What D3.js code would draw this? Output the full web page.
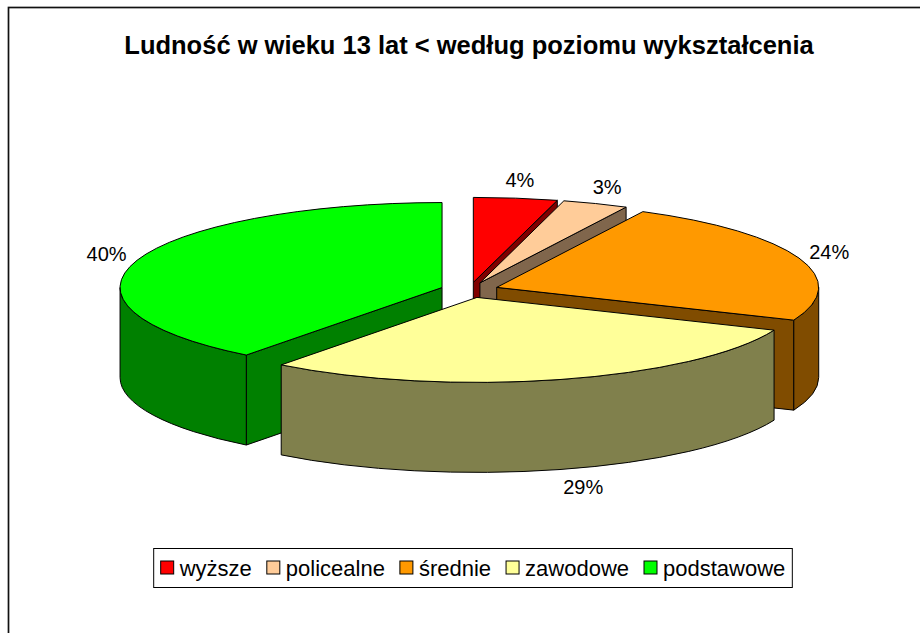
<!DOCTYPE html>
<html>
<head>
<meta charset="utf-8">
<script src="https://cdn.jsdelivr.net/npm/d3@7"></script>
<style>
  body { margin: 0; background: #fff; }
  text { font-family: "Liberation Sans", Arial, sans-serif; }
</style>
</head>
<body>
<div id="chart-area"></div>
<script>
// Data
var categories = ["wyższe", "policealne", "średnie", "zawodowe", "podstawowe"];
var values = [4.2, 3.3, 23.8, 29.1, 39.6];
var topColors = ["#FF0000", "#FFCC99", "#FF9900", "#FFFF99", "#00FF00"];
var sideColors = ["#800000", "#80664C", "#804C00", "#80804C", "#008000"];
var title = "Ludność w wieku 13 lat < według poziomu wykształcenia";

var width = 920, height = 633;

var svg = d3.select("#chart-area").append("svg")
    .attr("width", width)
    .attr("height", height);

// chart border
svg.append("rect")
    .attr("x", 8.5).attr("y", 7.5)
    .attr("width", 1000).attr("height", 1000)
    .attr("fill", "none")
    .attr("stroke", "#111")
    .attr("stroke-width", 1.7);

// Title
svg.append("text")
    .attr("x", 469)
    .attr("y", 54)
    .attr("text-anchor", "middle")
    .attr("font-size", "25.5px")
    .attr("font-weight", "bold")
    .text(title);

// Pie geometry
var cx = 469.5, cy = 290;
var rx = 322, ry = 85, depth = 90;
var explode = 0.09;

var total = d3.sum(values);
var pct = d3.format(".0%");

var pie = d3.pie().sort(null).value((d)=>{return d;});
var arcs = pie(values).map((a, i)=>{
  var m = (a.startAngle + a.endAngle) / 2;
  return {
    i: i, a0: a.startAngle, a1: a.endAngle, mid: m,
    ox: cx + explode * rx * Math.sin(m),
    oy: cy - explode * ry * Math.cos(m)
  };
});

function rimX(s, a) { return s.ox + rx * Math.sin(a); }
function rimY(s, a) { return s.oy - ry * Math.cos(a); }

function topPath(s) {
  var large = (s.a1 - s.a0) > Math.PI ? 1 : 0;
  return "M" + s.ox + "," + s.oy +
    "L" + rimX(s, s.a0) + "," + rimY(s, s.a0) +
    "A" + rx + "," + ry + " 0 " + large + " 1 " + rimX(s, s.a1) + "," + rimY(s, s.a1) + "Z";
}

function wallPath(s) {
  var a = Math.max(s.a0, Math.PI / 2), b = Math.min(s.a1, 3 * Math.PI / 2);
  if (a >= b) return null;
  return "M" + rimX(s, a) + "," + rimY(s, a) +
    "A" + rx + "," + ry + " 0 0 1 " + rimX(s, b) + "," + rimY(s, b) +
    "L" + rimX(s, b) + "," + (rimY(s, b) + depth) +
    "A" + rx + "," + ry + " 0 0 0 " + rimX(s, a) + "," + (rimY(s, a) + depth) + "Z";
}

function facePath(s, a) {
  return "M" + s.ox + "," + s.oy +
    "L" + rimX(s, a) + "," + rimY(s, a) +
    "L" + rimX(s, a) + "," + (rimY(s, a) + depth) +
    "L" + s.ox + "," + (s.oy + depth) + "Z";
}

// back to front
var order = arcs.slice().sort((p, q)=>{ return Math.cos(q.mid) - Math.cos(p.mid); });

var g = svg.append("g")
    .attr("stroke", "#000")
    .attr("stroke-width", 1)
    .attr("stroke-linejoin", "round");

order.forEach((s)=>{
  var sg = g.append("g");
  // radial faces that face the viewer
  if (Math.sin(s.a0) < -1e-6) {
    sg.append("path").attr("d", facePath(s, s.a0)).attr("fill", sideColors[s.i]);
  }
  if (Math.sin(s.a1) > 1e-6) {
    sg.append("path").attr("d", facePath(s, s.a1)).attr("fill", sideColors[s.i]);
  }
  var w = wallPath(s);
  if (w) sg.append("path").attr("d", w).attr("fill", sideColors[s.i]);
  sg.append("path").attr("d", topPath(s)).attr("fill", topColors[s.i]);
});

// Data labels
svg.append("g").selectAll("text")
  .data(arcs)
  .enter()
  .append("text")
    .attr("x", (s)=>{
      var k = Math.cos(s.mid) < 0 ? 1.28 : 1.1;
      return s.ox + rx * k * Math.sin(s.mid);
    })
    .attr("y", (s)=>{
      var y = s.oy - (ry + 18) * Math.cos(s.mid);
      return Math.cos(s.mid) < 0 ? y + depth : y;
    })
    .attr("dy", "0.35em")
    .attr("text-anchor", "middle")
    .attr("font-size", "20px")
    .attr("fill", "#000")
    .text((s)=>{ return pct(values[s.i] / total); });

// Legend
var legend = svg.append("g");
var lx = 0;
categories.forEach((c, i)=>{
  var it = legend.append("g");
  it.append("rect")
    .attr("x", 0).attr("y", -7)
    .attr("width", 13).attr("height", 13)
    .attr("fill", topColors[i])
    .attr("stroke", "#000")
    .attr("stroke-width", 1);
  var t = it.append("text")
    .attr("x", 19)
    .attr("y", 0)
    .attr("dy", "0.35em")
    .attr("font-size", "22px")
    .text(c);
  var w = 19 + t.node().getComputedTextLength();
  it.attr("transform", "translate(" + lx + ",0)");
  lx += w + 15;
});
var legendW = lx - 15;
var boxPad = 7;
var legendX = 473 - legendW / 2;
legend.attr("transform", "translate(" + legendX + ",568)");
svg.insert("rect", "g")
    .attr("x", legendX - boxPad)
    .attr("y", 548.5)
    .attr("width", legendW + 2 * boxPad)
    .attr("height", 39)
    .attr("fill", "#fff")
    .attr("stroke", "#000")
    .attr("stroke-width", 1);
</script>
</body>
</html>
